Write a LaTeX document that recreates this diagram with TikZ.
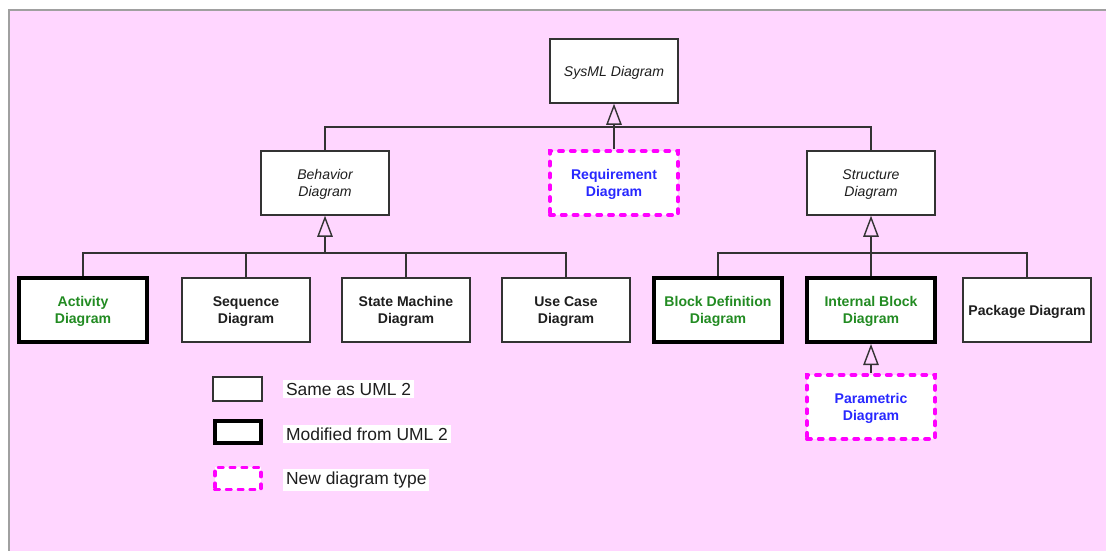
\documentclass[tikz,border=0pt]{standalone}
\usepackage{fontspec}
\setmainfont{Liberation Sans}
\usepackage{tikz}
\usetikzlibrary{arrows.meta}

\begin{document}
\begin{tikzpicture}[x=0.025cm,y=-0.025cm,
  diag/.style={draw=lineGray, line width=1pt, fill=white, minimum width=3.2cm, minimum height=1.6cm, align=center, inner sep=1pt, text depth=0pt, font=\fontsize{10}{12}\selectfont\bfseries, text=textGray},
  absdiag/.style={diag, font=\fontsize{10}{12}\selectfont\itshape},
  moddiag/.style={diag, draw=black, line width=2.8pt, text=modGreen},
  newdiag/.style={diag, draw=newMagenta, line width=2.8pt, line cap=round, dash pattern=on 2.8pt off 5.6pt, text=newBlue},
  gen/.style={draw=lineGray, line width=1pt, -{Triangle[open,length=15pt,width=11pt]}},
  bus/.style={draw=lineGray, line width=1pt},
  legtext/.style={fill=white, inner sep=2pt, anchor=west, font=\fontsize{12.4}{14}\selectfont, text=textGray}]
\definecolor{bgPink}{RGB}{255,214,255}
\definecolor{frameGray}{RGB}{160,160,160}
\definecolor{lineGray}{RGB}{51,51,51}
\definecolor{textGray}{RGB}{30,30,30}
\definecolor{modGreen}{RGB}{34,139,34}
\definecolor{newBlue}{RGB}{40,40,255}
\definecolor{newMagenta}{RGB}{255,0,255}
\useasboundingbox (0,0) rectangle (1106,551);
\fill[bgPink] (9,10) rectangle (1106,551);
\draw[frameGray, line width=1.5pt] (9,551) -- (9,10) -- (1106,10);

\node[absdiag] (sysml) at (614,71) {SysML Diagram};
\node[absdiag] (behavior) at (325,183) {Behavior\\Diagram};
\node[newdiag] (requirement) at (614,183) {Requirement\\Diagram};
\node[absdiag] (structure) at (871,183) {Structure\\Diagram};
\node[moddiag] (activity) at (83,310) {Activity\\Diagram};
\node[diag] (sequence) at (246,310) {Sequence\\Diagram};
\node[diag] (statemachine) at (406,310) {State Machine\\Diagram};
\node[diag] (usecase) at (566,310) {Use Case\\Diagram};
\node[moddiag] (blockdef) at (718,310) {Block Definition\\Diagram};
\node[moddiag] (internalblock) at (871,310) {Internal Block\\Diagram};
\node[diag] (package) at (1027,310) {Package Diagram};
\node[newdiag] (parametric) at (871,407) {Parametric\\Diagram};

\coordinate (jsysml) at (614,127);
\coordinate (jbehav) at (325,253);
\coordinate (jstruct) at (871,253);
\draw[bus] (behavior.north) |- (jsysml) -| (structure.north);
\draw[bus] (requirement.north) -- (jsysml);
\draw[gen] (jsysml) -- (sysml.south);
\draw[bus] (activity.north) |- (jbehav) -| (usecase.north);
\foreach \nm in {sequence,statemachine}
  \draw[bus] (\nm.north) -- (\nm.north |- jbehav);
\draw[gen] (jbehav) -- (behavior.south);
\draw[bus] (blockdef.north) |- (jstruct) -| (package.north);
\draw[bus] (internalblock.north) -- (jstruct);
\draw[gen] (jstruct) -- (structure.south);
\draw[gen] (parametric.north) -- (internalblock.south);

\node[diag, minimum width=1.225cm, minimum height=0.6cm] (legsame) at (237.5,389) {};
\node[moddiag, minimum width=1.15cm, minimum height=0.55cm] (legmod) at (238,432) {};
\node[newdiag, minimum width=1.15cm, minimum height=0.55cm] (legnew) at (238,478.5) {};
\node[legtext] (legsametext) at (283,389) {Same as UML 2};
\node[legtext] (legmodtext) at (283,434) {Modified from UML 2};
\node[legtext] (legnewtext) at (283,480) {New diagram type};
\end{tikzpicture}
\end{document}
